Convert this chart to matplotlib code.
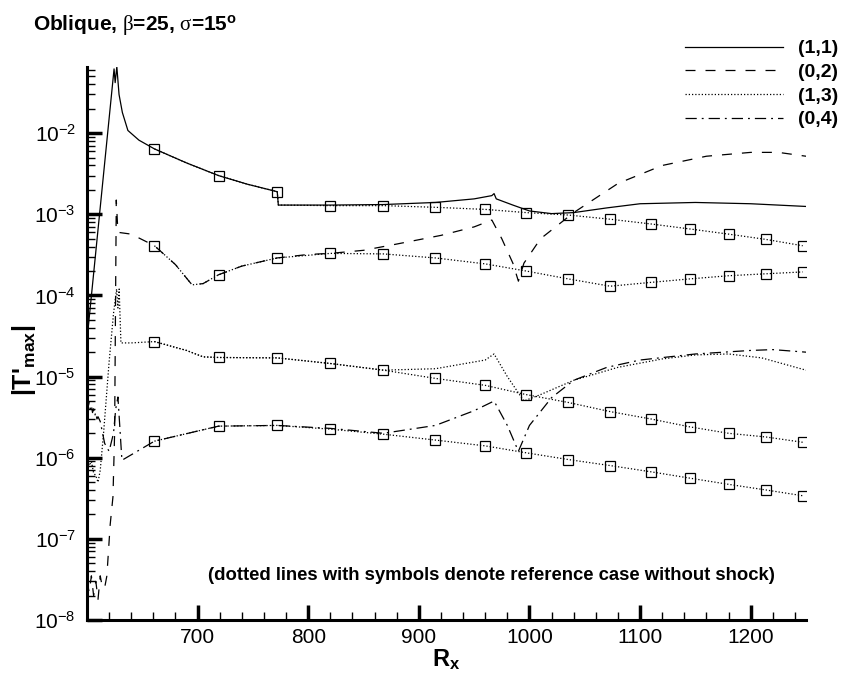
import math
import matplotlib.pyplot as plt
from matplotlib.ticker import MultipleLocator, LogLocator, FuncFormatter, NullFormatter

plt.rcParams['font.family'] = ['Liberation Sans', 'DejaVu Sans']
plt.rcParams['mathtext.fontset'] = 'custom'
plt.rcParams['mathtext.rm'] = 'Liberation Serif'
plt.rcParams['mathtext.default'] = 'regular'

# x positions where the reference (no shock) curves carry symbols
mark_x = [661, 719, 772, 820, 868, 915, 960, 997, 1035, 1073, 1110, 1145, 1180, 1214, 1247]

# mode (1,1), with shock
x11 = [600, 624.5, 625.5, 627, 629, 632, 637, 647, 661, 690, 719, 745, 772, 773,
       820, 868, 915, 950, 966, 968, 970, 985, 1000, 1020, 1040, 1070, 1100, 1150, 1200, 1250]
y11 = [2.8e-5, 0.062, 0.042, 0.066, 0.03, 0.018, 0.0108, 0.0082, 6.4e-3, 4.3e-3, 3.0e-3, 2.35e-3, 1.9e-3, 1.3e-3,
       1.3e-3, 1.32e-3, 1.4e-3, 1.55e-3, 1.7e-3, 1.8e-3, 1.55e-3, 1.3e-3, 1.1e-3, 1.02e-3, 1.05e-3, 1.2e-3, 1.35e-3, 1.4e-3, 1.35e-3, 1.25e-3]

# mode (0,2), with shock
x02 = [600, 602, 604, 606, 608, 610, 612, 614, 616, 618, 621, 623.5, 625, 626.5, 628, 640,
       661, 680, 695, 705, 719, 740, 772, 800, 820, 850, 880, 920, 950, 966, 975, 985, 990, 995,
       1010, 1040, 1080, 1120, 1160, 1200, 1225, 1250]
y02 = [3e-8, 2.2e-8, 3.5e-8, 2e-8, 3e-8, 1.8e-8, 3.5e-8, 2.5e-8, 2.5e-8, 3.5e-8, 1.5e-7, 3.3e-7, 2e-6, 1.5e-3, 6e-4, 5.7e-4,
       4.1e-4, 2.4e-4, 1.35e-4, 1.4e-4, 1.8e-4, 2.3e-4, 2.9e-4, 3.2e-4, 3.3e-4, 3.6e-4, 4.3e-4, 5.5e-4, 7e-4, 8.5e-4, 5e-4, 2.5e-4, 1.5e-4, 2.5e-4,
       5e-4, 1.05e-3, 2.4e-3, 4e-3, 5.2e-3, 5.8e-3, 5.8e-3, 5.2e-3]

# mode (1,3), with shock
x13 = [600, 602, 604, 606, 608, 610, 612, 615, 620, 624, 626.8, 628, 629.1, 630.7, 640,
       661, 690, 705, 719, 772, 820, 868, 915, 960, 968, 980, 995, 1010, 1040, 1080, 1120, 1150, 1180, 1210, 1250]
y13 = [1e-6, 8e-7, 9e-7, 6.5e-7, 6e-7, 5e-7, 7e-7, 2e-6, 1.5e-5, 6e-5, 1.2e-4, 7e-5, 1.2e-4, 2.6e-5, 2.6e-5,
       2.7e-5, 2.1e-5, 1.75e-5, 1.72e-5, 1.7e-5, 1.45e-5, 1.2e-5, 1.25e-5, 1.6e-5, 1.9e-5, 1e-5, 5e-6, 6e-6, 9e-6, 1.3e-5, 1.65e-5, 1.85e-5, 1.9e-5, 1.7e-5, 1.2e-5]

# mode (0,4), with shock
x04 = [600, 601, 602, 603, 604, 605, 606, 607, 608, 609, 610, 612, 616, 620, 624, 626, 628, 631.6,
       661, 719, 772, 820, 868, 915, 950, 968, 980, 990, 1000, 1020, 1040, 1070, 1100, 1150, 1200, 1220, 1250]
y04 = [5e-6, 4.2e-6, 4.8e-6, 4e-6, 4.4e-6, 3.6e-6, 4e-6, 3.3e-6, 3.6e-6, 3e-6, 3.2e-6, 2.8e-6, 1.5e-6, 1.2e-6, 2e-6, 4e-6, 5.6e-6, 9.3e-7,
       1.6e-6, 2.45e-6, 2.5e-6, 2.3e-6, 2.0e-6, 2.5e-6, 3.8e-6, 5e-6, 2.5e-6, 1.2e-6, 2.5e-6, 5.5e-6, 9e-6, 1.3e-5, 1.6e-5, 1.9e-5, 2.1e-5, 2.15e-5, 2.0e-5]

# reference cases without shock (dotted with symbols)
ref11_x = [661, 690, 719, 745, 772, 773, 820, 868, 915, 960, 997, 1035, 1073, 1110, 1145, 1180, 1214, 1247]
ref11_y = [6.4e-3, 4.3e-3, 3.0e-3, 2.35e-3, 1.9e-3, 1.3e-3, 1.28e-3, 1.28e-3, 1.22e-3, 1.15e-3, 1.05e-3, 9.8e-4, 8.7e-4,
           7.6e-4, 6.6e-4, 5.7e-4, 4.9e-4, 4.1e-4]
ref02_x = [661, 680, 695, 705, 719, 740, 772, 820, 868, 915, 960, 997, 1035, 1073, 1110, 1145, 1180, 1214, 1247]
ref02_y = [4.1e-4, 2.4e-4, 1.35e-4, 1.4e-4, 1.8e-4, 2.3e-4, 2.9e-4, 3.3e-4, 3.25e-4, 2.9e-4, 2.45e-4, 2.0e-4, 1.6e-4,
           1.3e-4, 1.45e-4, 1.6e-4, 1.75e-4, 1.85e-4, 1.95e-4]
ref13_x = [661, 690, 705, 719, 772, 820, 868, 915, 960, 997, 1035, 1073, 1110, 1145, 1180, 1214, 1247]
ref13_y = [2.7e-5, 2.1e-5, 1.75e-5, 1.72e-5, 1.7e-5, 1.45e-5, 1.2e-5, 9.5e-6, 7.8e-6, 6e-6, 4.8e-6, 3.7e-6, 3.0e-6,
           2.4e-6, 2.0e-6, 1.8e-6, 1.55e-6]
ref04_x = [661, 719, 772, 820, 868, 915, 960, 997, 1035, 1073, 1110, 1145, 1180, 1214, 1247]
ref04_y = [1.6e-6, 2.45e-6, 2.5e-6, 2.25e-6, 1.95e-6, 1.65e-6, 1.4e-6, 1.15e-6, 9.5e-7, 8e-7, 6.7e-7, 5.6e-7, 4.7e-7,
           4.0e-7, 3.4e-7]

labels = ['(1,1)', '(0,2)', '(1,3)', '(0,4)']
xticks = [700, 800, 900, 1000, 1100, 1200]
yticks = [1e-8, 1e-7, 1e-6, 1e-5, 1e-4, 1e-3, 1e-2]

dotted = (0, (1, 1.6))
dashed = (0, (8, 8))
dashdot = (0, (9, 4, 1.5, 4))

fig = plt.figure(figsize=(8.41, 6.75), dpi=100)
ax = fig.add_axes([0.1034, 0.0815, 0.855, 0.8197])

ax.plot(x11, y11, color='black', lw=0.9, ls='-', label=labels[0])
ax.plot(x02, y02, color='black', lw=0.9, ls=dashed, label=labels[1])
ax.plot(x13, y13, color='black', lw=0.9, ls=dotted, label=labels[2])
ax.plot(x04, y04, color='black', lw=0.9, ls=dashdot, label=labels[3])

for rx, ry in [(ref11_x, ref11_y), (ref02_x, ref02_y), (ref13_x, ref13_y), (ref04_x, ref04_y)]:
    idx = [i for i, v in enumerate(rx) if v in mark_x]
    ax.plot(rx, ry, color='black', lw=0.9, ls=dotted, marker='s', markevery=idx,
            markersize=6.5, mfc='none', mec='black', mew=0.9)

ax.set_yscale('log')
ax.set_xlim(600, 1250)
ax.set_ylim(1e-8, 0.066)

ax.set_xticks(xticks)
ax.xaxis.set_minor_locator(MultipleLocator(20))
ax.set_yticks(yticks)
ax.yaxis.set_minor_locator(LogLocator(base=10, subs=range(2, 10), numticks=20))
ax.yaxis.set_minor_formatter(NullFormatter())


def fmt_y(v, pos):
    e = int(round(math.log10(v)))
    return '10$^{%d}$' % e


ax.yaxis.set_major_formatter(FuncFormatter(fmt_y))

for s in ['top', 'right']:
    ax.spines[s].set_visible(False)
for s in ['left', 'bottom']:
    ax.spines[s].set_linewidth(2.2)

ax.tick_params(which='major', direction='in', length=11, width=2.5, labelsize=15)
ax.tick_params(which='minor', direction='in', length=6, width=1)
ax.tick_params(axis='y', which='major', pad=8)
ax.tick_params(axis='x', which='major', pad=6)

ax.set_xlabel('R$_x$', fontsize=17, fontweight='bold', labelpad=0)
ax.set_ylabel("|T'$_{max}$|", fontsize=18, fontweight='bold')
ax.yaxis.set_label_coords(-0.068, 0.47)

fig.text(0.039, 0.955, r'Oblique, $\mathrm{\beta}$=25, $\mathrm{\sigma}$=15$^{o}$', fontsize=15, fontweight='bold',
         ha='left', va='baseline')

ax.text(0.562, 0.081, '(dotted lines with symbols denote reference case without shock)', transform=ax.transAxes,
        fontsize=13.3, fontweight='bold', ha='center', va='center')

ax.legend(loc='upper right', bbox_to_anchor=(0.997, 0.941), bbox_transform=fig.transFigure, frameon=False,
          prop={'weight': 'bold', 'size': 14}, handlelength=5.0, handletextpad=0.8, labelspacing=0.31,
          borderpad=0, borderaxespad=0)

fig.savefig('out.png', dpi=100)
